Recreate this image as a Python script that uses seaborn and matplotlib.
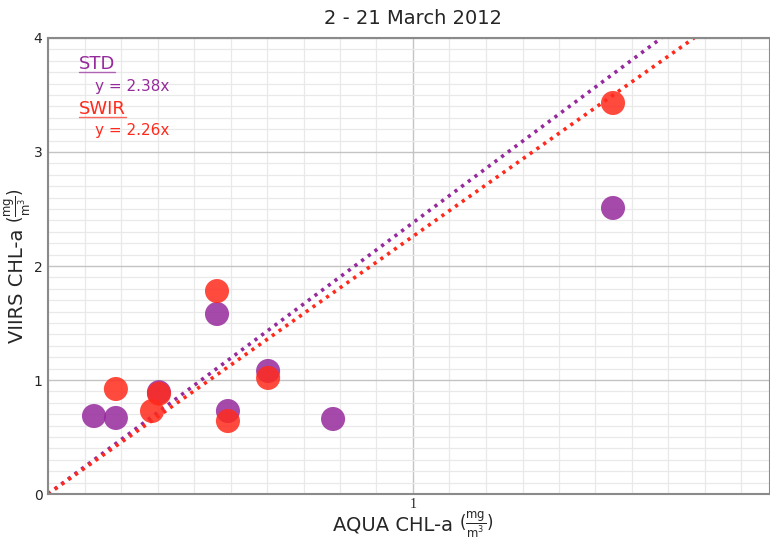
import numpy as np
import pandas as pd
import matplotlib
matplotlib.use("Agg")
import matplotlib.pyplot as plt
from matplotlib.ticker import MultipleLocator, FixedLocator
import seaborn as sns

# valori
std_x = [0.126, 0.186, 0.304, 0.463, 0.493, 0.603, 0.781, 1.548]
std_y = [0.684, 0.667, 0.893, 1.579, 0.728, 1.079, 0.658, 2.509]
swir_x = [0.186, 0.285, 0.304, 0.463, 0.493, 0.603, 1.548]
swir_y = [0.921, 0.728, 0.880, 1.780, 0.640, 1.018, 3.430]
slopes = {"STD": 2.38, "SWIR": 2.26}
colors = {"STD": "#962a9c", "SWIR": "#ff2a1c"}
title = "2 - 21 March 2012"
unit = r"$(\frac{\mathregular{mg}}{\mathregular{m^3}})$"

sns.set_style("white")
plt.rcParams["font.family"] = ["DejaVu Sans"]

fig = plt.figure(figsize=(7.7, 5.42), dpi=100)
ax = fig.add_axes([48 / 770, 48 / 542, 722 / 770, 456 / 542])

df_std = pd.DataFrame({"x": std_x, "y": std_y})
df_swir = pd.DataFrame({"x": swir_x, "y": swir_y})

# linii de regresie prin origine
for name in ["STD", "SWIR"]:
    xx = np.array([0.0, 4.0 / slopes[name]])
    ax.plot(xx, slopes[name] * xx, color=colors[name], lw=2.6,
            linestyle=(0, (0.9, 1.4)), zorder=2)

sns.scatterplot(data=df_std, x="x", y="y", color=colors["STD"], s=300,
                alpha=0.85, edgecolor="none", ax=ax, zorder=3)
sns.scatterplot(data=df_swir, x="x", y="y", color=colors["SWIR"], s=300,
                alpha=0.85, edgecolor="none", ax=ax, zorder=4)

ax.set_xlim(0, 722 / 365)
ax.set_ylim(0, 4)
ax.xaxis.set_major_locator(FixedLocator([1]))
ax.yaxis.set_major_locator(MultipleLocator(1))
ax.xaxis.set_minor_locator(MultipleLocator(0.1))
ax.yaxis.set_minor_locator(MultipleLocator(0.1))
ax.grid(which="major", color="#c4c4c4", lw=1.0)
ax.grid(which="minor", color="#e9e9e9", lw=0.9)
ax.set_axisbelow(True)
ax.tick_params(which="both", length=0)
ax.tick_params(axis="y", pad=4, labelsize=10)
ax.tick_params(axis="x", pad=3, labelsize=10)
for lab in ax.get_xticklabels():
    lab.set_family("Liberation Serif")

for side in ["left", "bottom", "top", "right"]:
    ax.spines[side].set_color("#8a8a8a")
    ax.spines[side].set_linewidth(1.5)

ax.set_xlabel("")
ax.set_ylabel("")
fig.text(413 / 770, 1 - 19 / 542, title, ha="center", va="center", fontsize=14)

fig.canvas.draw()
renderer = fig.canvas.get_renderer()

# etichetele axelor: textul mare + unitatea mai mica
xl = fig.text(0, 1 - 525 / 542, "AQUA CHL-a ", ha="left", va="center", fontsize=14)
xu = fig.text(0, 1 - 525 / 542, unit, ha="left", va="center", fontsize=12)
w1 = xl.get_window_extent(renderer).width
w2 = xu.get_window_extent(renderer).width
x0 = 413 - (w1 + w2) / 2
xl.set_x(x0 / 770)
xu.set_x((x0 + w1) / 770)

yl = fig.text(18 / 770, 0, "VIIRS CHL-a ", ha="center", va="bottom", fontsize=14,
              rotation=90)
yu = fig.text(18 / 770, 0, unit, ha="center", va="bottom", fontsize=12, rotation=90)
h1 = yl.get_window_extent(renderer).height
h2 = yu.get_window_extent(renderer).height
y0 = (542 - 266) - (h1 + h2) / 2
yl.set_y(y0 / 542)
yu.set_y((y0 + h1) / 542)

# legenda scrisa de mana
labels = [("STD", 64, 87, "y = 2.38x"), ("SWIR", 109, 131, "y = 2.26x")]
for name, ypx, ypx2, eq in labels:
    t = fig.text(79 / 770, 1 - ypx / 542, name, color=colors[name], fontsize=13,
                 ha="left", va="center")
    bb = t.get_window_extent(renderer)
    fig.add_artist(plt.Line2D([bb.x0 / 770, bb.x1 / 770],
                              [(bb.y0 + 1) / 542, (bb.y0 + 1) / 542],
                              color=colors[name], lw=1.0, alpha=0.7))
    fig.text(95 / 770, 1 - ypx2 / 542, eq, color=colors[name], fontsize=11,
             ha="left", va="center")

fig.savefig("out.png", dpi=100)
